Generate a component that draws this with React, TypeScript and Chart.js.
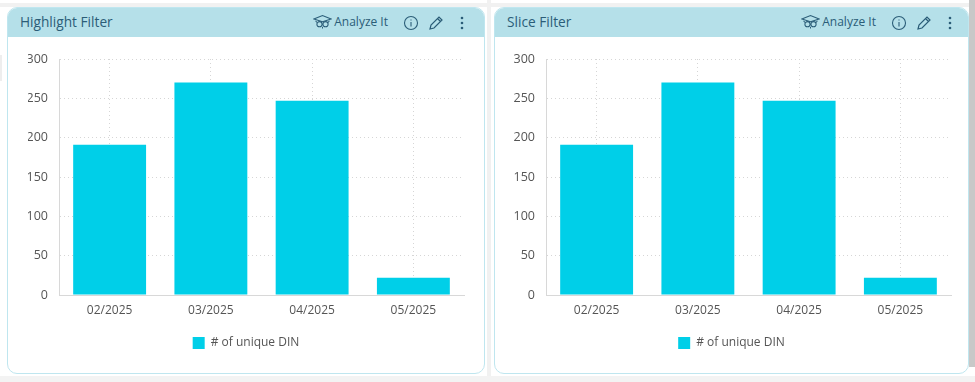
import React, { useEffect, useRef } from "react";
import { Chart, registerables } from "chart.js";

Chart.register(...registerables);

const categories = ["02/2025", "03/2025", "04/2025", "05/2025"];
const uniqueDin = [191, 270, 247, 22];
const seriesLabel = "# of unique DIN";
const yTicks = [0, 50, 100, 150, 200, 250, 300];
const panelTitles = ["Highlight Filter", "Slice Filter"];

const FONT = "'Open Sans', sans-serif";
const BAR = "#00cfe8";
const INK = "#2b5d78";

function Icons({ shift }: { shift: number }) {
  const c = INK;
  return (
    <>
      <svg width="19" height="17" viewBox="0 0 22 18" style={{ position: "absolute", right: 152 - shift, top: 6 }} fill="none" stroke={c} strokeWidth="1.2">
        <path d="M1 5 L11 1 L21 5 L11 8 Z" />
        <circle cx="7.5" cy="11" r="3" />
        <circle cx="14.5" cy="11" r="3" />
        <path d="M10.5 11 H11.5 M11 14 V16 M3 7 L4.5 9 M19 7 L17.5 9" />
      </svg>
      <div style={{ position: "absolute", right: 96 - shift, top: 5, fontSize: 12, color: c, lineHeight: "18px" }}>Analyze It</div>
      <svg width="16" height="16" viewBox="0 0 16 16" style={{ position: "absolute", right: 65 - shift, top: 7 }} fill="none" stroke={c} strokeWidth="1.1">
        <circle cx="8" cy="8" r="6.5" />
        <path d="M8 7 V11.5 M8 4.4 V5.6" />
      </svg>
      <svg width="16" height="16" viewBox="0 0 16 16" style={{ position: "absolute", right: 40 - shift, top: 7 }} fill="none" stroke={c} strokeWidth="1.2">
        <path d="M2 14 L3 10 L11 2 L14 5 L6 13 Z M9.5 3.5 L12.5 6.5" />
      </svg>
      <svg width="6" height="14" viewBox="0 0 6 14" style={{ position: "absolute", right: 19 - shift, top: 8 }} fill={c}>
        <circle cx="3" cy="2" r="1.3" />
        <circle cx="3" cy="7" r="1.3" />
        <circle cx="3" cy="12" r="1.3" />
      </svg>
    </>
  );
}

function Panel({ title, left, width, side, shift }: { title: string; left: number; width: number; side: number; shift: number }) {
  const ref = useRef<HTMLCanvasElement>(null);
  useEffect(() => {
    const chart = new Chart(ref.current!, {
      type: "bar",
      data: {
        labels: categories,
        datasets: [{ label: seriesLabel, data: uniqueDin, backgroundColor: BAR, categoryPercentage: 0.72, barPercentage: 1 }],
      },
      options: {
        animation: false,
        responsive: false,
        layout: { padding: { left: side, right: side, top: 22, bottom: 14 } },
        plugins: {
          legend: {
            position: "bottom",
            labels: { boxWidth: 12, boxHeight: 12, padding: 11.5, color: "#555", font: { family: FONT, size: 12 } },
          },
          tooltip: { enabled: false },
        },
        scales: {
          x: {
            grid: { offset: false, color: "#d6d6d6", drawTicks: false },
            border: { color: "#d8d8d8", dash: [1, 3] } as any,
            ticks: { color: "#555", padding: 8, font: { family: FONT, size: 12 } },
          },
          y: {
            min: 0,
            max: 300,
            afterBuildTicks: (s: any) => { s.ticks = yTicks.map((value) => ({ value })); },
            afterFit: (s: any) => { s.width = 51 - side; },
            grid: { color: "#d6d6d6", drawTicks: false },
            border: { color: "#d8d8d8", dash: [1, 3] } as any,
            ticks: { color: "#555", padding: 11, font: { family: FONT, size: 12.5 } },
          },
        },
      },
    });
    return () => chart.destroy();
  }, []);
  return (
    <div style={{ position: "absolute", left, top: 7, width, height: 367, boxSizing: "border-box", background: "#fff", border: "1px solid #bfe6ef", borderRadius: 10, overflow: "hidden", fontFamily: FONT }}>
      <div style={{ position: "absolute", left: 0, top: 0, right: 0, height: 29, background: "#b5e0e9" }}>
        <div style={{ position: "absolute", left: 12, top: 4, fontSize: 13.7, color: INK, lineHeight: "20px" }}>{title}</div>
        <Icons shift={shift} />
      </div>
      <canvas ref={ref} width={width - 2} height={336} style={{ position: "absolute", left: 0, top: 29, display: "block" }} />
    </div>
  );
}

function Band({ x, y, w, h, c }: { x: number; y: number; w: number; h: number; c: string }) {
  return <div style={{ position: "absolute", left: x, top: y, width: w, height: h, background: c }} />;
}

export default function App() {
  useEffect(() => {
    document.body.style.margin = "0";
    document.body.style.background = "#fff";
  }, []);
  return (
    <div style={{ position: "relative", width: 975, height: 382, overflow: "hidden", background: "#fff" }}>
      <Band x={0} y={3} w={975} h={4} c="#f1f1f1" />
      <Band x={487} y={0} w={4} h={382} c="#f1f1f1" />
      <Band x={0} y={376} w={975} h={6} c="#f3f3f3" />
      <Band x={0} y={55} w={2} h={26} c="#eeeeee" />
      <Band x={969} y={0} w={6} h={367} c="#c8c8c8" />
      <Panel title={panelTitles[0]} left={7} width={478} side={20} shift={0} />
      <Panel title={panelTitles[1]} left={494} width={475} side={17} shift={4} />
    </div>
  );
}
